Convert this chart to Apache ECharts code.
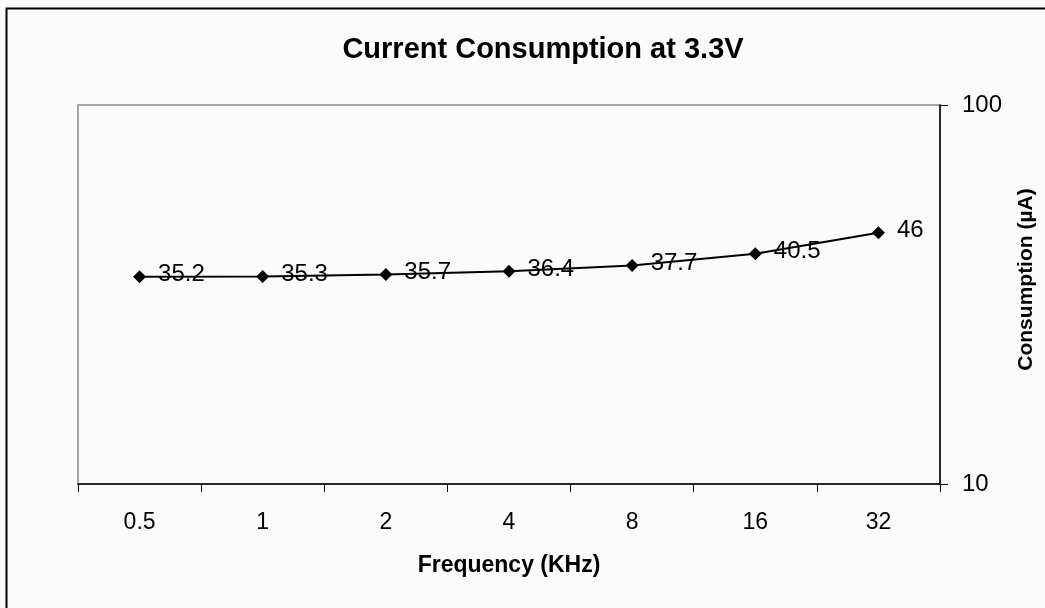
<!DOCTYPE html>
<html>
<head>
<meta charset="utf-8">
<script src="https://cdn.jsdelivr.net/npm/echarts@6/dist/echarts.min.js"></script>
<style>
  html, body { margin: 0; padding: 0; background: #fbfbfb; }
  #chart { width: 1045px; height: 608px; }
</style>
</head>
<body>
<div id="chart"></div>
<script>
var frequencies = ['0.5', '1', '2', '4', '8', '16', '32'];
var consumption = [35.2, 35.3, 35.7, 36.4, 37.7, 40.5, 46];
var yTicks = [10, 100];

var font = '"Liberation Sans", Arial, sans-serif';
var myChart = echarts.init(document.getElementById('chart'));

var option = {
    backgroundColor: '#fbfbfb',
    animation: false,
    title: {
        text: 'Current Consumption at 3.3V',
        left: 538,
        top: 30,
        textAlign: 'center',
        textStyle: {
            fontFamily: font,
            fontSize: 29,
            fontWeight: 'bold',
            color: '#000'
        }
    },
    // outer frame, only its top and left edges fall inside the picture
    graphic: [
        {
            type: 'rect',
            shape: { x: 6.5, y: 8.5, width: 1200, height: 800 },
            style: { fill: 'none', stroke: '#000', lineWidth: 2 },
            z: 0
        }
    ],
    grid: {
        left: 78,
        right: 105,
        top: 105,
        bottom: 124,
        outerBoundsMode: 'none',
        show: true,
        borderColor: '#8a8a8a',
        borderWidth: 1.5,
        backgroundColor: 'transparent'
    },
    xAxis: {
        type: 'category',
        data: frequencies,
        boundaryGap: true,
        name: 'Frequency (KHz)',
        nameLocation: 'middle',
        nameGap: 70,
        nameTextStyle: {
            fontFamily: font,
            fontSize: 23,
            fontWeight: 'bold',
            color: '#000'
        },
        axisLine: { lineStyle: { color: '#000', width: 1.5 } },
        axisTick: { show: true, interval: 0, length: 8, lineStyle: { color: '#000' } },
        axisLabel: {
            interval: 0,
            margin: 27,
            fontFamily: font,
            fontSize: 23,
            color: '#000'
        },
        splitLine: { show: false }
    },
    yAxis: {
        type: 'log',
        logBase: 10,
        min: yTicks[0],
        max: yTicks[yTicks.length - 1],
        position: 'right',
        name: 'Consumption (µA)',
        nameLocation: 'middle',
        nameRotate: 90,
        nameGap: 76,
        nameTextStyle: {
            fontFamily: font,
            fontSize: 21,
            fontWeight: 'bold',
            color: '#000',
            padding: [0, 0, 0, 30]
        },
        axisLine: { show: true, lineStyle: { color: '#000', width: 1.5 } },
        axisTick: { show: true, length: 8, lineStyle: { color: '#000' } },
        minorTick: { show: false },
        axisLabel: {
            margin: 22,
            fontFamily: font,
            fontSize: 24,
            color: '#000'
        },
        splitLine: { show: false }
    },
    series: [
        {
            name: 'Consumption',
            type: 'line',
            data: consumption,
            symbol: 'diamond',
            symbolSize: 13,
            lineStyle: { color: '#000', width: 2 },
            itemStyle: { color: '#000' },
            label: {
                show: true,
                position: 'right',
                distance: 12,
                offset: [0, -2],
                fontFamily: font,
                fontSize: 24,
                color: '#000'
            }
        }
    ]
};

option && myChart.setOption(option);
</script>
</body>
</html>
